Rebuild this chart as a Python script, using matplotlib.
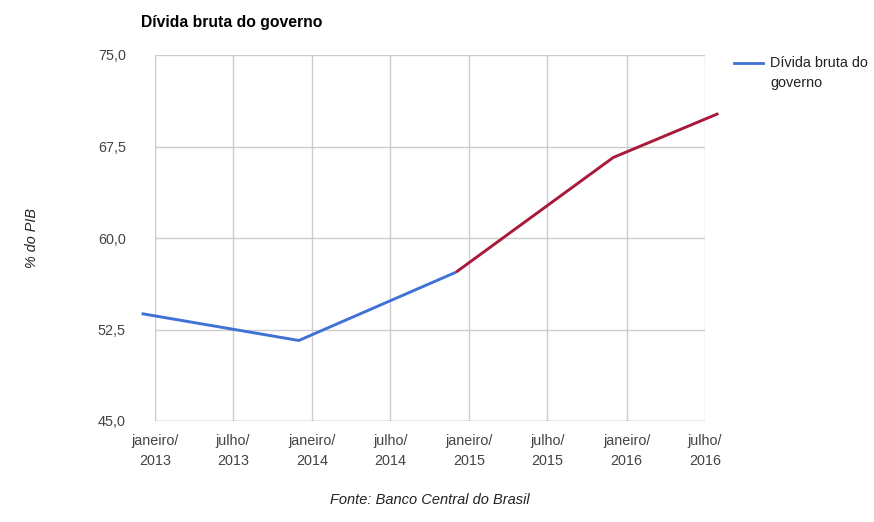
import matplotlib
matplotlib.use("Agg")
import matplotlib.pyplot as plt
import pandas as pd

plt.rcParams['font.family'] = ['Liberation Sans', 'DejaVu Sans']

# Data
blue_dates = ["2012-12-01", "2013-12-01", "2014-12-01"]
blue_values = [53.8, 51.6, 57.2]
red_dates = ["2014-12-01", "2015-12-01", "2016-08-01"]
red_values = [57.2, 66.6, 70.2]
tick_dates = ["2013-01-01", "2013-07-01", "2014-01-01", "2014-07-01",
              "2015-01-01", "2015-07-01", "2016-01-01", "2016-07-01"]
tick_labels = ["janeiro/\n2013", "julho/\n2013", "janeiro/\n2014", "julho/\n2014",
               "janeiro/\n2015", "julho/\n2015", "janeiro/\n2016", "julho/\n2016"]
y_ticks = [45.0, 52.5, 60.0, 67.5, 75.0]
y_tick_labels = ["45,0", "52,5", "60,0", "67,5", "75,0"]

W, H = 874, 522
fig = plt.figure(figsize=(W / 100, H / 100), dpi=100)
ax = fig.add_axes([155 / W, 1 - 421 / H, (705 - 155) / W, (421 - 55) / H])

bd = pd.to_datetime(blue_dates)
rd = pd.to_datetime(red_dates)
td = pd.to_datetime(tick_dates)

blue = "#4072d6"
red = "#a8193a"
ax.plot(bd, blue_values, color=blue, lw=2.1, clip_on=False, zorder=3,
        solid_capstyle='butt', label="Dívida bruta do\ngoverno")
ax.plot(rd, red_values, color=red, lw=2.1, clip_on=False, zorder=4,
        solid_capstyle='butt')

ax.set_xlim(td[0], td[-1])
ax.set_ylim(45, 75)
ax.set_xticks(td)
ax.set_xticklabels(tick_labels, fontsize=10.4, color="#444444", linespacing=1.55)
ax.set_yticks(y_ticks)
ax.set_yticklabels(y_tick_labels, fontsize=10.4, color="#444444")
ax.tick_params(axis='both', length=0)
ax.tick_params(axis='x', pad=9)
ax.tick_params(axis='y', pad=21)

ax.grid(True, color="#cccccc", lw=1)
ax.set_axisbelow(True)
for s in ax.spines.values():
    s.set_visible(False)
ax.axhline(45, color="#b0b0b0", lw=1, zorder=2)

fig.text(141 / W, 1 - 22 / H, "Dívida bruta do governo", fontsize=11.3,
         fontweight='bold', ha='left', va='center', color='black')
fig.text(32 / W, 1 - 238 / H, "% do PIB", fontsize=10.4, style='italic',
         rotation=90, ha='center', va='center', color='#222222')
fig.text(430 / W, 1 - 500 / H, "Fonte: Banco Central do Brasil", fontsize=10.5,
         style='italic', ha='center', va='center', color='#222222')

# Legend
fig.lines.append(plt.Line2D([734 / W, 763 / W], [1 - 63 / H, 1 - 63 / H],
                            color=blue, lw=2.0, transform=fig.transFigure))
fig.text(770 / W, 1 - 63 / H, "Dívida bruta do", fontsize=10.4, ha='left',
         va='center', color='#222222')
fig.text(770 / W, 1 - 83 / H, "governo", fontsize=10.4, ha='left',
         va='center', color='#222222')

fig.savefig("out.png", dpi=100, facecolor='white')
